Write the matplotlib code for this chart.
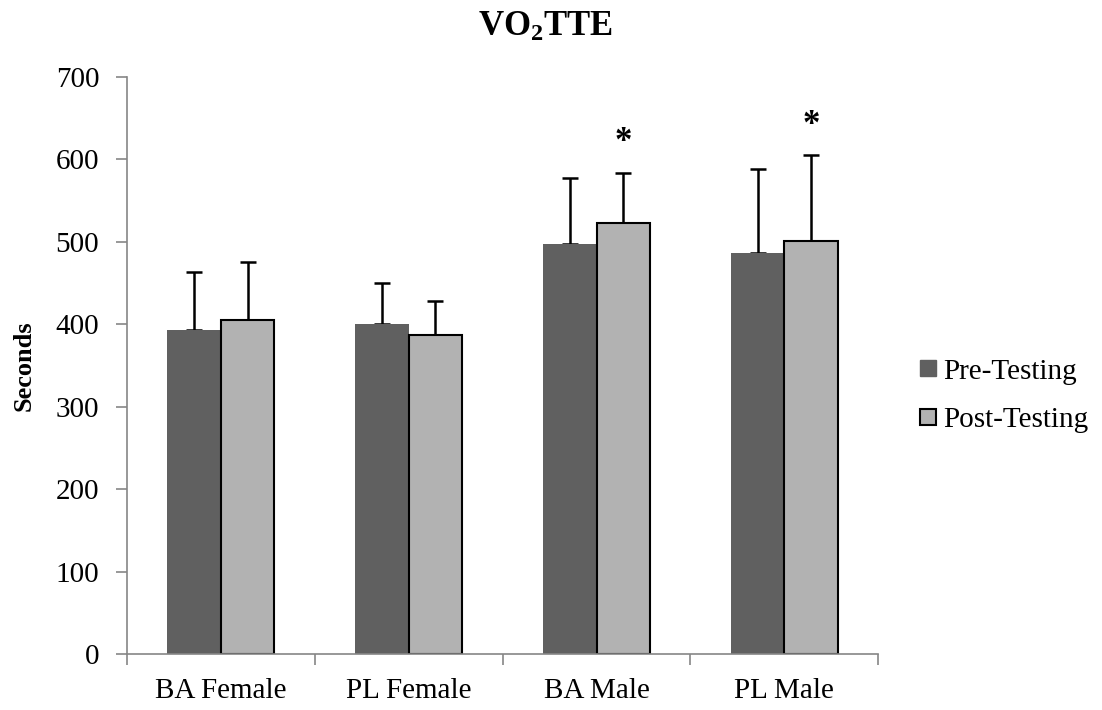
import matplotlib
matplotlib.use("Agg")
import matplotlib.pyplot as plt
import numpy as np
from matplotlib.lines import Line2D

categories = ["BA Female", "PL Female", "BA Male", "PL Male"]
pre = [393, 400, 498, 487]
post = [405, 387, 523, 501]
pre_err = [71, 50, 80, 101]
post_err = [71, 41, 61, 104]
starred = [False, False, True, True]

PRE = "#606060"
POST = "#b2b2b2"
AXIS = "#868686"

plt.rcParams["font.family"] = ["Liberation Serif", "DejaVu Serif"]
plt.rcParams["mathtext.fontset"] = "custom"
plt.rcParams["mathtext.rm"] = "Liberation Serif"
plt.rcParams["mathtext.bf"] = "Liberation Serif:bold"

fig = plt.figure(figsize=(11.02, 7.10), dpi=100)
ax = fig.add_axes([0.1152, 0.0789, 0.6818, 0.8126])

x = np.arange(len(categories))
w = 0.285
ax.bar(x - w / 2, pre, w, color=PRE, edgecolor="none", zorder=2)
ax.bar(x + w / 2, post, w, color=POST, edgecolor="black", linewidth=1.5, zorder=2)
ax.errorbar(x - w / 2, pre, yerr=[np.zeros(4), pre_err], fmt="none",
            ecolor="black", elinewidth=1.8, capsize=6, capthick=1.8, zorder=1)
ax.errorbar(x + w / 2, post, yerr=[np.zeros(4), post_err], fmt="none",
            ecolor="black", elinewidth=1.8, capsize=6, capthick=1.8, zorder=1)

for i, s in enumerate(starred):
    if s:
        ax.text(x[i] + w / 2, post[i] + post_err[i] + 16, "*", ha="center",
                va="bottom", fontsize=25, fontweight="bold")

ax.set_xlim(-0.5, 3.5)
ax.set_ylim(0, 700)
ax.set_yticks(np.arange(0, 701, 100))
ax.set_xticks(np.arange(-0.5, 3.6, 1))
ax.set_xticklabels([])
ax.set_xticks(x, minor=True)
ax.set_xticklabels(categories, minor=True)
ax.tick_params(axis="x", which="minor", length=0, pad=17, labelsize=21)
ax.tick_params(axis="x", which="major", length=8, color=AXIS, width=1.2)
ax.tick_params(axis="y", length=8, color=AXIS, width=1.2, labelsize=21, pad=12)

for side in ["top", "right"]:
    ax.spines[side].set_visible(False)
for side in ["left", "bottom"]:
    ax.spines[side].set_color(AXIS)
    ax.spines[side].set_linewidth(1.2)

ax.set_ylabel("Seconds", fontsize=19, fontweight="bold")
ax.yaxis.set_label_coords(-0.121, 0.5)
fig.text(0.4946, 0.949, r"$\mathbf{VO_{2}TTE}$", fontsize=25,
         ha="center", va="baseline")

handles = [
    Line2D([0], [0], marker="s", linestyle="none", markersize=11,
           markerfacecolor=PRE, markeredgecolor=PRE, label="Pre-Testing"),
    Line2D([0], [0], marker="s", linestyle="none", markersize=11,
           markerfacecolor=POST, markeredgecolor="black", markeredgewidth=1.5,
           label="Post-Testing"),
]
fig.legend(handles=handles, loc="center left", bbox_to_anchor=(0.808, 0.443),
           frameon=False, fontsize=21, handletextpad=0.1, labelspacing=0.75,
           handlelength=0.8)

fig.savefig("out.png", dpi=100)
